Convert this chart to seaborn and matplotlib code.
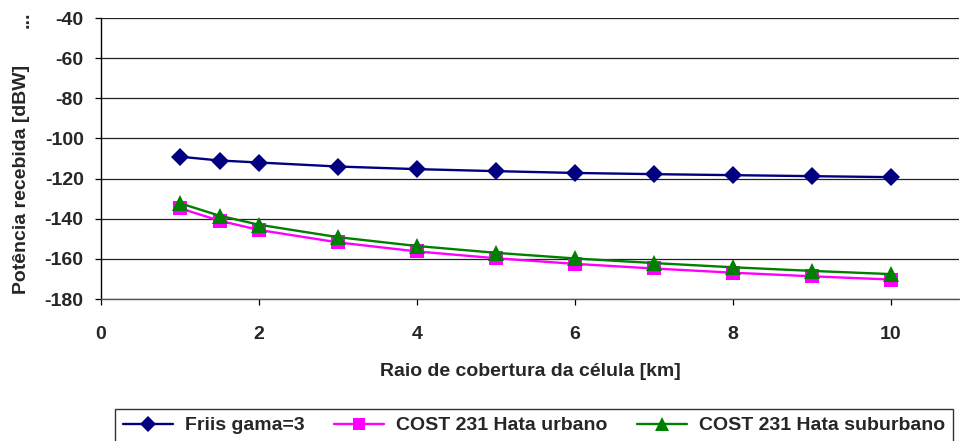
import matplotlib
matplotlib.use("Agg")
import matplotlib.pyplot as plt
import pandas as pd
import seaborn as sns

# cell radius [km]
raio_km = [1, 1.5, 2, 3, 4, 5, 6, 7, 8, 9, 10]

# received power [dBW]
friis_gama3 = [-109.1, -111.0, -112.0, -114.0, -115.3, -116.3, -117.2, -117.8, -118.3, -118.8, -119.3]
cost_urbano = [-134.8, -141.0, -145.6, -151.8, -156.3, -159.7, -162.5, -164.8, -166.9, -168.7, -170.3]
cost_suburbano = [-132.3, -138.5, -143.0, -149.2, -153.6, -157.0, -159.8, -162.1, -164.2, -166.0, -167.6]

series = [
    ("Friis gama=3", friis_gama3, "#000080", "D", 9.5),
    ("COST 231 Hata urbano", cost_urbano, "#FF00FF", "s", 9.5),
    ("COST 231 Hata suburbano", cost_suburbano, "#008000", "^", 12),
]

sns.set_theme(style="white")
plt.rcParams["font.family"] = ["Liberation Sans", "DejaVu Sans"]
plt.rcParams["font.weight"] = "bold"
plt.rcParams["axes.labelweight"] = "bold"
plt.rcParams["axes.unicode_minus"] = False

fig = plt.figure(figsize=(9.6, 4.41), dpi=100, facecolor="white")
ax = fig.add_axes([101 / 960, 1 - 299 / 441, 858 / 960, 281 / 441])

for name, vals, color, marker, ms in series:
    df = pd.DataFrame({"raio": raio_km, "pot": vals})
    sns.lineplot(data=df, x="raio", y="pot", ax=ax, color=color, marker=marker,
                 markersize=ms, markeredgewidth=0, linewidth=1.7, label=name)

ax.set_xlim(0, 858 / 79)
ax.set_ylim(-180, -40)
ax.set_xticks([0, 2, 4, 6, 8, 10])
ax.set_yticks(list(range(-180, -39, 20)))
ax.yaxis.grid(True, color="#222222", linewidth=0.9)
ax.xaxis.grid(False)
ax.set_axisbelow(True)

for side in ("top", "right"):
    ax.spines[side].set_visible(False)
ax.spines["left"].set_color("black")
ax.spines["left"].set_linewidth(1.0)
ax.spines["bottom"].set_color("#555555")
ax.spines["bottom"].set_linewidth(1.0)

ax.tick_params(axis="both", which="major", labelsize=14, direction="out",
               length=4.5, width=0.9, color="black", bottom=True, left=True)
ax.tick_params(axis="y", pad=8)
ax.tick_params(axis="x", pad=15)
for lab in ax.get_xticklabels() + ax.get_yticklabels():
    lab.set_fontweight("bold")

ax.set_xlabel("Raio de cobertura da célula [km]", fontsize=14, fontweight="bold", labelpad=14)
ax.set_ylabel("")
fig.text(22 / 960, 1 - 179 / 441, "Potência recebida [dBW]", rotation=90,
         ha="center", va="center", fontsize=14, fontweight="bold")
fig.text(24 / 960, 1 - 20 / 441, "...", rotation=90,
         ha="center", va="center", fontsize=14, fontweight="bold")

leg = ax.legend(loc="upper left", bbox_to_anchor=(115 / 960, 1 - 409 / 441),
                bbox_transform=fig.transFigure, ncol=3, frameon=True, fancybox=False,
                edgecolor="#333333", framealpha=1, borderaxespad=0,
                handlelength=2.6, handletextpad=0.6, columnspacing=1.5,
                borderpad=0.4, markerscale=0.85, prop={"size": 14, "weight": "bold"})
leg.get_frame().set_linewidth(1.0)

fig.savefig("out.png", dpi=100, facecolor="white")
